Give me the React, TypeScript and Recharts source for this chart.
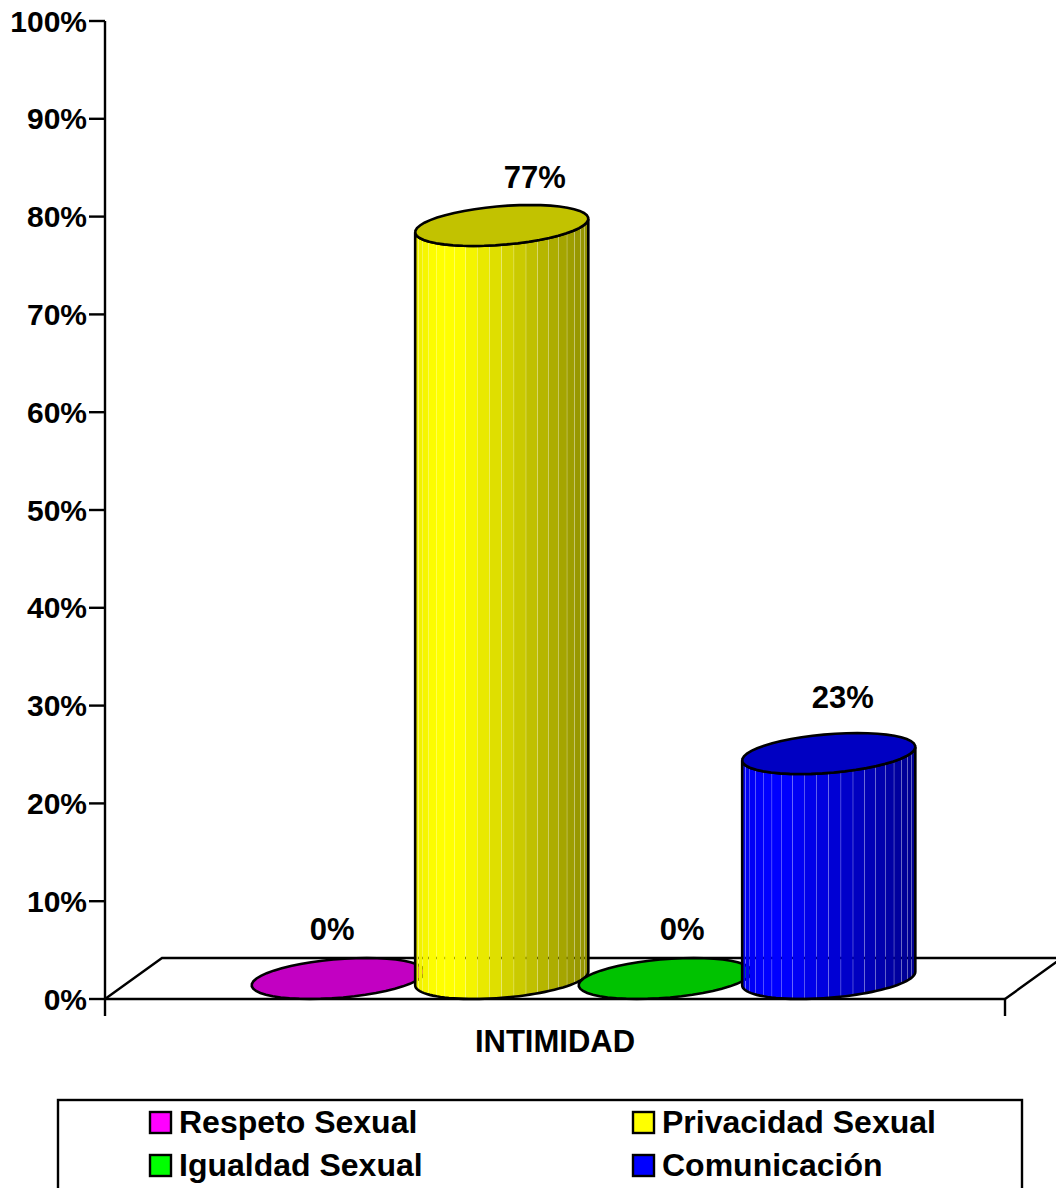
import { useId } from "react";
import { Bar, BarChart, LabelList, XAxis, YAxis, usePlotArea } from "recharts";

const categories = ["INTIMIDAD"];
const seriesNames = ["Respeto Sexual", "Privacidad Sexual", "Igualdad Sexual", "Comunicación"];
const seriesValues = [[0], [77], [0], [23]];
const seriesColors = ["#ff00ff", "#ffff00", "#00ff00", "#0000ff"];
const percentTicks = [0, 10, 20, 30, 40, 50, 60, 70, 80, 90, 100];

const data = categories.map((name, c) => {
  const row: Record<string, string | number> = { name };
  seriesNames.forEach((s, i) => {
    row[s] = seriesValues[i][c];
  });
  return row;
});

const WIDTH = 1056;
const HEIGHT = 1188;
const FONT = '"Liberation Sans", Arial, sans-serif';
const BAR_WIDTH = 163.5;
// oblique depth of the 3D floor and of each cylinder
const DEPTH_X = 57;
const DEPTH_Y = 41;
const EDGE = 2.6;
const STRIPS = 22;
// hairline left between facets so the seams stay visible
const SEAM = 0.3;

// value labels are hand placed around the cylinder tops
const labelNudge = [
  { dx: -6, dy: -70 },
  { dx: 33, dy: -68 },
  { dx: 17, dy: -70 },
  { dx: 14, dy: -77 },
];

const shade = (hex: string, k: number) => {
  const n = parseInt(hex.slice(1), 16);
  const ch = (v: number) => Math.round(v * k);
  return `rgb(${ch((n >> 16) & 255)},${ch((n >> 8) & 255)},${ch(n & 255)})`;
};

// lit from the left: slightly dim edge, bright band, then falling off to the right
const lightAt = (f: number) => {
  if (f < 0.12) return 0.93 + (f / 0.12) * 0.07;
  if (f < 0.25) return 1;
  return 1 - ((f - 0.25) / 0.75) * 0.44;
};

function Cylinder(props: any) {
  const { x, y, width, height, fill } = props;
  const clipId = useId();
  const ax = width / 2;
  const bx = DEPTH_X / 2;
  const by = DEPTH_Y / 2;
  const cx = x + width / 2 + bx;
  const topY = y - by;
  const bottomY = y + height - by;
  const radius = Math.hypot(ax, bx);
  const tRight = Math.atan2(bx, ax);
  const tLeft = tRight + Math.PI;

  const at = (t: number, cy: number) =>
    `${(cx + ax * Math.cos(t) + bx * Math.sin(t)).toFixed(2)} ${(cy - by * Math.sin(t)).toFixed(2)}`;
  const arc = (from: number, to: number, cy: number) => {
    const pts: string[] = [];
    for (let i = 0; i <= 48; i++) pts.push(at(from + ((to - from) * i) / 48, cy));
    return pts.join(" L ");
  };

  const frontBottom = arc(tLeft, tRight + 2 * Math.PI, bottomY);
  const frontTop = arc(tRight + 2 * Math.PI, tLeft, topY);
  const body = `M ${at(tLeft, topY)} L ${frontBottom} L ${frontTop} Z`;
  const lid = `M ${arc(0, 2 * Math.PI, topY)} Z`;

  const strips = [];
  if (height > 0) {
    for (let i = 0; i < STRIPS; i++) {
      const x0 = cx - radius * Math.cos((Math.PI * i) / STRIPS);
      const x1 = cx - radius * Math.cos((Math.PI * (i + 1)) / STRIPS);
      const f = ((x0 + x1) / 2 - (cx - radius)) / (2 * radius);
      strips.push(
        <rect
          key={i}
          x={x0}
          y={topY - by}
          width={x1 - x0 - SEAM}
          height={bottomY - topY + DEPTH_Y + 2}
          fill={shade(fill, lightAt(f))}
        />,
      );
    }
  }

  return (
    <g>
      {height > 0 && (
        <>
          <clipPath id={clipId}>
            <path d={body} />
          </clipPath>
          <g clipPath={`url(#${clipId})`}>{strips}</g>
          <path d={body} fill="none" stroke="#000" strokeWidth={EDGE} />
        </>
      )}
      <path d={lid} fill={shade(fill, 0.76)} stroke="#000" strokeWidth={EDGE} />
    </g>
  );
}

// 3D floor behind the cylinders plus the two end ticks of the category axis
function Floor() {
  const plot = usePlotArea();
  if (!plot) return null;
  const left = plot.x;
  const right = plot.x + plot.width;
  const base = plot.y + plot.height;
  const back = base - DEPTH_Y;
  return (
    <g stroke="#000" strokeWidth={2.4} fill="none">
      <path
        d={`M ${left} ${base} L ${left + DEPTH_X} ${back} L ${right + DEPTH_X} ${back} L ${right} ${base}`}
      />
      <line x1={left} y1={base} x2={left} y2={base + 17} />
      <line x1={right} y1={base} x2={right} y2={base + 17} />
    </g>
  );
}

function LegendBox() {
  const rows = [1133, 1176];
  const columns = [149, 632];
  return (
    <g>
      <rect x={58} y={1100} width={964} height={100} fill="#fff" stroke="#000" strokeWidth={2.4} />
      {seriesNames.map((name, i) => {
        const base = rows[Math.floor(i / 2)];
        const left = columns[i % 2];
        return (
          <g key={name}>
            <rect
              x={left + 1}
              y={base - 21}
              width={21}
              height={21}
              fill={seriesColors[i]}
              stroke="#000"
              strokeWidth={2.4}
            />
            <text
              x={left + 30}
              y={base}
              fontFamily={FONT}
              fontSize={32}
              fontWeight="bold"
              fill="#000"
            >
              {name}
            </text>
          </g>
        );
      })}
    </g>
  );
}

const valueLabel = (i: number) => (props: any) => {
  const { x, y, width, value } = props;
  return (
    <text
      x={x + width / 2 + DEPTH_X / 2 + labelNudge[i].dx}
      y={y + labelNudge[i].dy}
      textAnchor="middle"
      dominantBaseline="central"
      fontFamily={FONT}
      fontSize={31}
      fontWeight="bold"
      fill="#000"
    >
      {`${value}%`}
    </text>
  );
};

const axisStroke = { stroke: "#000", strokeWidth: 2.4 };

export default function App() {
  return (
    <div style={{ position: "absolute", left: 0, top: 0, width: WIDTH, height: HEIGHT, background: "#fff" }}>
      <BarChart
        width={WIDTH}
        height={HEIGHT}
        data={data}
        margin={{ top: 21, right: 51, bottom: 0, left: 0 }}
        barSize={BAR_WIDTH}
        barGap={0}
      >
        <Floor />
        <XAxis
          dataKey="name"
          height={189}
          axisLine={axisStroke}
          tickLine={false}
          tickMargin={25}
          tick={{ fill: "#000", fontFamily: FONT, fontSize: 31, fontWeight: "bold" }}
        />
        <YAxis
          width={105}
          domain={[0, 100]}
          ticks={percentTicks}
          interval={0}
          tickSize={16}
          tickMargin={2}
          axisLine={axisStroke}
          tickLine={axisStroke}
          tickFormatter={(v) => `${v}%`}
          tick={{ fill: "#000", fontFamily: FONT, fontSize: 30, fontWeight: "bold" }}
        />
        {seriesNames.map((name, i) => (
          <Bar
            key={name}
            dataKey={name}
            fill={seriesColors[i]}
            isAnimationActive={false}
            shape={(p: any) => <Cylinder {...p} />}
          >
            <LabelList dataKey={name} content={valueLabel(i)} />
          </Bar>
        ))}
        <LegendBox />
      </BarChart>
    </div>
  );
}
